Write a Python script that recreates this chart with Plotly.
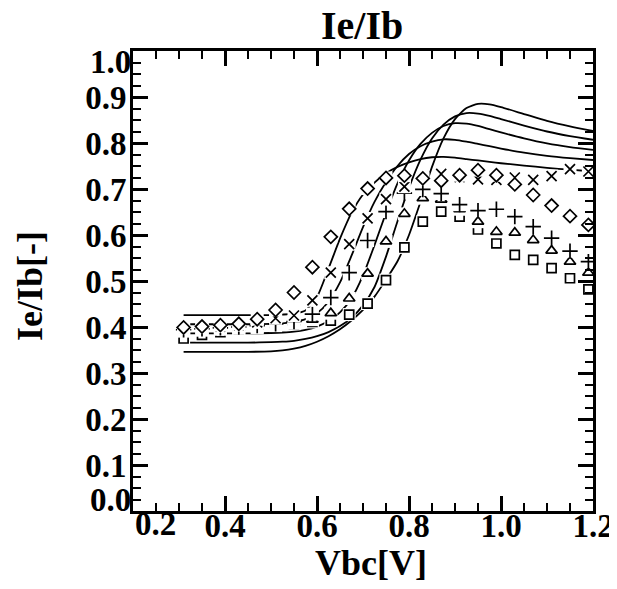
import plotly.graph_objects as go

# ---------------- data ----------------
vbc = [0.31, 0.35, 0.39, 0.43, 0.47, 0.51, 0.55, 0.59, 0.63, 0.67, 0.71, 0.75,
       0.79, 0.83, 0.87, 0.91, 0.95, 0.99, 1.03, 1.07, 1.11, 1.15, 1.19]

meas_diamond = [0.399, 0.401, 0.404, 0.407, 0.417, 0.437, 0.475, 0.530, 0.596, 0.657, 0.701, 0.724,
                0.729, 0.723, 0.718, 0.730, 0.741, 0.730, 0.710, 0.687, 0.664, 0.641, 0.622]
meas_cross = [0.397, 0.399, 0.401, 0.404, 0.410, 0.419, 0.425, 0.458, 0.518, 0.580, 0.636, 0.678,
              0.705, 0.722, 0.733, 0.726, 0.721, 0.720, 0.725, 0.720, 0.728, 0.743, 0.738]
meas_plus = [0.394, 0.396, 0.398, 0.400, 0.403, 0.407, 0.412, 0.428, 0.464, 0.518, 0.588, 0.651,
             0.691, 0.699, 0.690, 0.666, 0.653, 0.656, 0.640, 0.618, 0.593, 0.565, 0.542]
meas_triangle = [0.391, 0.393, 0.395, 0.397, 0.400, 0.404, 0.409, 0.416, 0.430, 0.462, 0.516, 0.586,
                 0.646, 0.680, 0.677, 0.656, 0.629, 0.607, 0.605, 0.589, 0.566, 0.542, 0.518]
meas_square = [0.375, 0.383, 0.389, 0.394, 0.399, 0.403, 0.407, 0.411, 0.414, 0.427, 0.451, 0.502,
               0.573, 0.629, 0.651, 0.640, 0.612, 0.582, 0.557, 0.546, 0.528, 0.506, 0.482]

vbc_model = [0.31, 0.35, 0.40, 0.45, 0.50, 0.525, 0.55, 0.575, 0.60, 0.625, 0.65, 0.675, 0.70,
             0.725, 0.75, 0.775, 0.80, 0.825, 0.85, 0.875, 0.90, 0.925, 0.95, 0.975, 1.00,
             1.05, 1.10, 1.15, 1.20]
model_1 = [0.426, 0.426, 0.426, 0.426, 0.426, 0.427, 0.429, 0.436, 0.465, 0.527, 0.592, 0.648, 0.688,
           0.714, 0.734, 0.748, 0.758, 0.765, 0.769, 0.770, 0.768, 0.765, 0.762, 0.759, 0.756,
           0.751, 0.746, 0.742, 0.738]
model_2 = [0.406, 0.406, 0.406, 0.406, 0.407, 0.408, 0.411, 0.417, 0.430, 0.455, 0.497, 0.555, 0.617,
           0.672, 0.715, 0.750, 0.776, 0.793, 0.803, 0.808, 0.807, 0.803, 0.798, 0.793, 0.788,
           0.779, 0.772, 0.767, 0.763]
model_3 = [0.386, 0.386, 0.386, 0.386, 0.387, 0.388, 0.390, 0.394, 0.401, 0.413, 0.432, 0.462, 0.512,
           0.578, 0.648, 0.712, 0.762, 0.798, 0.822, 0.837, 0.843, 0.842, 0.837, 0.830, 0.823,
           0.810, 0.799, 0.791, 0.785]
model_4 = [0.366, 0.366, 0.366, 0.366, 0.367, 0.368, 0.370, 0.374, 0.380, 0.389, 0.402, 0.420, 0.447,
           0.487, 0.553, 0.630, 0.703, 0.764, 0.810, 0.840, 0.858, 0.865, 0.864, 0.859, 0.852,
           0.838, 0.825, 0.815, 0.807]
model_5 = [0.346, 0.346, 0.346, 0.346, 0.347, 0.349, 0.353, 0.359, 0.368, 0.380, 0.395, 0.414, 0.437,
           0.466, 0.503, 0.543, 0.600, 0.672, 0.748, 0.810, 0.852, 0.876, 0.885, 0.884, 0.878,
           0.863, 0.848, 0.836, 0.826]

x_tickvals = [0.4, 0.6, 0.8, 1.0, 1.2]
x_ticktext = ["0.4", "0.6", "0.8", "1.0", "1.2"]
y_tickvals = [0.1, 0.2, 0.3, 0.4, 0.5, 0.6, 0.7, 0.8, 0.9]
y_ticktext = ["0.1", "0.2", "0.3", "0.4", "0.5", "0.6", "0.7", "0.8", "0.9"]

title_text = "Ie/Ib"
x_title = "Vbc[V]"
y_title = "Ie/Ib[-]"

FONT = "Liberation Serif, Times New Roman, serif"

fig = go.Figure()

# model curves (solid); marker white boxes drawn later break them up
for ym in [model_1, model_2, model_3, model_4, model_5]:
    fig.add_trace(go.Scatter(x=vbc_model, y=ym, mode="lines",
                             line=dict(color="black", width=1.8, shape="spline", smoothing=0.6),
                             showlegend=False, hoverinfo="skip"))

# measured series; drawn square first, diamond last
series = [
    (meas_square, "square-open", 9),
    (meas_triangle, "triangle-up-open", 10),
    (meas_plus, "cross-thin-open", 11),
    (meas_cross, "x-thin-open", 10),
    (meas_diamond, "diamond-open", 10),
]
for ys, sym, sz in series:
    fig.add_trace(go.Scatter(x=vbc, y=ys, mode="markers",
                             marker=dict(symbol="square", size=13, color="white",
                                         line=dict(width=0)),
                             showlegend=False, hoverinfo="skip"))
    fig.add_trace(go.Scatter(x=vbc, y=ys, mode="markers",
                             marker=dict(symbol=sym, size=sz, color="black",
                                         line=dict(color="black", width=1.7)),
                             showlegend=False, hoverinfo="skip"))

axis_common = dict(
    showline=True, linecolor="black", linewidth=3, mirror="ticks",
    ticks="inside", ticklen=15, tickwidth=2.5, tickcolor="black",
    showgrid=False, zeroline=False, automargin=False,
    tickfont=dict(family=FONT, size=33, color="black", weight="bold"),
)

fig.update_xaxes(range=[0.2, 1.2], tickvals=x_tickvals, ticktext=x_ticktext,
                 ticklabelstandoff=-17,
                 minor=dict(ticks="inside", ticklen=8, tickwidth=2, tickcolor="black",
                            dtick=0.05, tick0=0.2, showgrid=False),
                 **axis_common)
fig.update_yaxes(range=[0.0, 1.0], tickvals=y_tickvals, ticktext=y_ticktext,
                 ticklabelstandoff=-3,
                 minor=dict(ticks="inside", ticklen=8, tickwidth=2, tickcolor="black",
                            dtick=0.025, tick0=0.0, showgrid=False),
                 **axis_common)

ann_font = dict(family=FONT, size=33, color="black", weight="bold")
annotations = [
    dict(text="0.2", x=0.2, y=0, xref="x", yref="paper", xanchor="left", yanchor="top",
         yshift=7, showarrow=False, font=ann_font),
    dict(text="0.0", x=0, y=0.0, xref="paper", yref="y", xanchor="right", yanchor="bottom",
         xshift=0, yshift=-9, showarrow=False, font=ann_font),
    dict(text="1.0", x=0, y=1.0, xref="paper", yref="y", xanchor="right", yanchor="top",
         xshift=0, yshift=9, showarrow=False, font=ann_font),
    dict(text=title_text, x=0.497, y=1.055, xref="paper", yref="paper", xanchor="center",
         yanchor="middle", showarrow=False,
         font=dict(family=FONT, size=40, color="black", weight="bold")),
    dict(text=x_title, x=0.517, y=-0.114, xref="paper", yref="paper", xanchor="center",
         yanchor="middle", showarrow=False,
         font=dict(family=FONT, size=36, color="black", weight="bold")),
    dict(text=y_title, x=-0.224, y=0.489, xref="paper", yref="paper", xanchor="center",
         yanchor="middle", textangle=-90, showarrow=False,
         font=dict(family=FONT, size=36, color="black", weight="bold")),
]

# page body adds an 8px margin; size the figure so the plot box lands where the reference has it
fig.update_layout(
    width=609, height=581,
    margin=dict(l=125, r=24, t=43, b=78, pad=0),
    paper_bgcolor="white", plot_bgcolor="white",
    showlegend=False,
    annotations=annotations,
)

fig.write_html("out.html")
